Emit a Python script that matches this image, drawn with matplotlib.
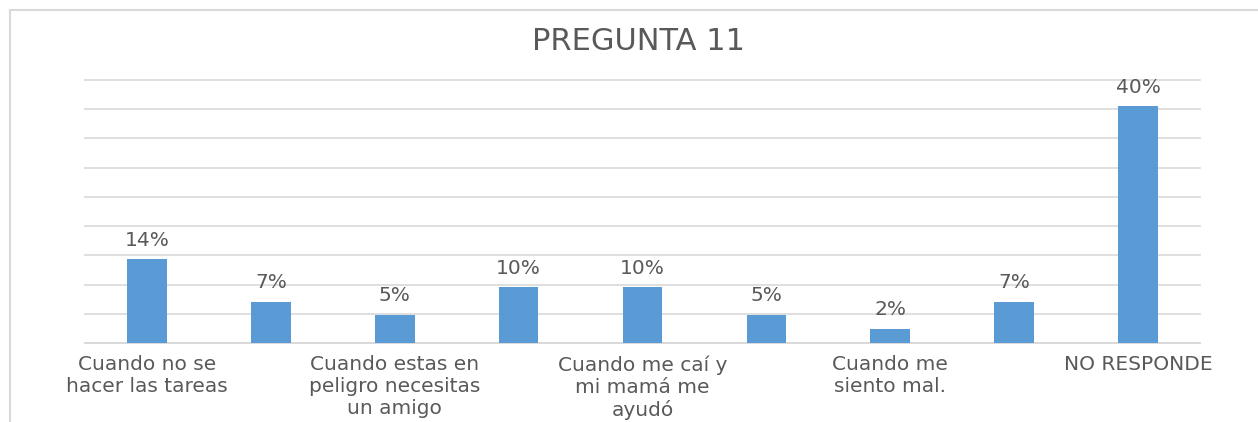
import numpy as np
import matplotlib
matplotlib.use("Agg")
import matplotlib.pyplot as plt
from matplotlib.lines import Line2D
from matplotlib.ticker import MultipleLocator

# categories (labels hidden by Excel on alternate bars are unknown -> empty)
categories = [
    "Cuando no se\nhacer las tareas",
    "",
    "Cuando estas en\npeligro necesitas\nun amigo",
    "",
    "Cuando me caí y\nmi mamá me\nayudó",
    "",
    "Cuando me\nsiento mal.",
    "",
    "NO RESPONDE",
]
values = [0.143, 0.071, 0.048, 0.095, 0.095, 0.048, 0.024, 0.071, 0.405]
title = "PREGUNTA 11"

bar_color = "#5B9BD5"
text_color = "#595959"
grid_color = "#D9D9D9"

plt.rcParams['font.family'] = ['DejaVu Sans']

fig = plt.figure(figsize=(12.58, 4.22), dpi=100)
ax = fig.add_axes([85 / 1258, 1 - 343 / 422, (1200 - 85) / 1258, (343 - 80) / 422])

x = np.arange(len(values))
bars = ax.bar(x, values, width=0.32, color=bar_color, zorder=3)

ax.set_xlim(-0.5, len(values) - 0.5)
ax.set_ylim(0, 0.45)
ax.yaxis.set_major_locator(MultipleLocator(0.05))
ax.grid(axis='y', color=grid_color, linewidth=1.2, zorder=0)
for gl in ax.get_ygridlines():
    gl.set_clip_on(False)
ax.set_yticklabels([])
ax.tick_params(axis='y', length=0)
ax.tick_params(axis='x', length=0, pad=9)
for side in ['left', 'right', 'top']:
    ax.spines[side].set_visible(False)
ax.spines['bottom'].set_color(grid_color)
ax.spines['bottom'].set_linewidth(1.2)

ax.set_xticks(x)
ax.set_xticklabels(categories, fontsize=14.5, color=text_color, linespacing=1.2, va='top')

for b, v in zip(bars, values):
    ax.annotate(f"{v * 100:.0f}%", (b.get_x() + b.get_width() / 2, v),
                xytext=(0, 7), textcoords='offset points',
                ha='center', va='bottom', fontsize=14.5, color=text_color)

fig.text(639 / 1258, 1 - 42 / 422, title, ha='center', va='center',
         fontsize=22, color=text_color)

# chart area border (left and top edges visible in the crop)
fig.add_artist(Line2D([10 / 1258, 10 / 1258], [0, 1 - 10 / 422],
                      transform=fig.transFigure, color=grid_color, linewidth=1.5))
fig.add_artist(Line2D([10 / 1258, 1], [1 - 10 / 422, 1 - 10 / 422],
                      transform=fig.transFigure, color=grid_color, linewidth=1.5))

fig.savefig("out.png", dpi=100)
